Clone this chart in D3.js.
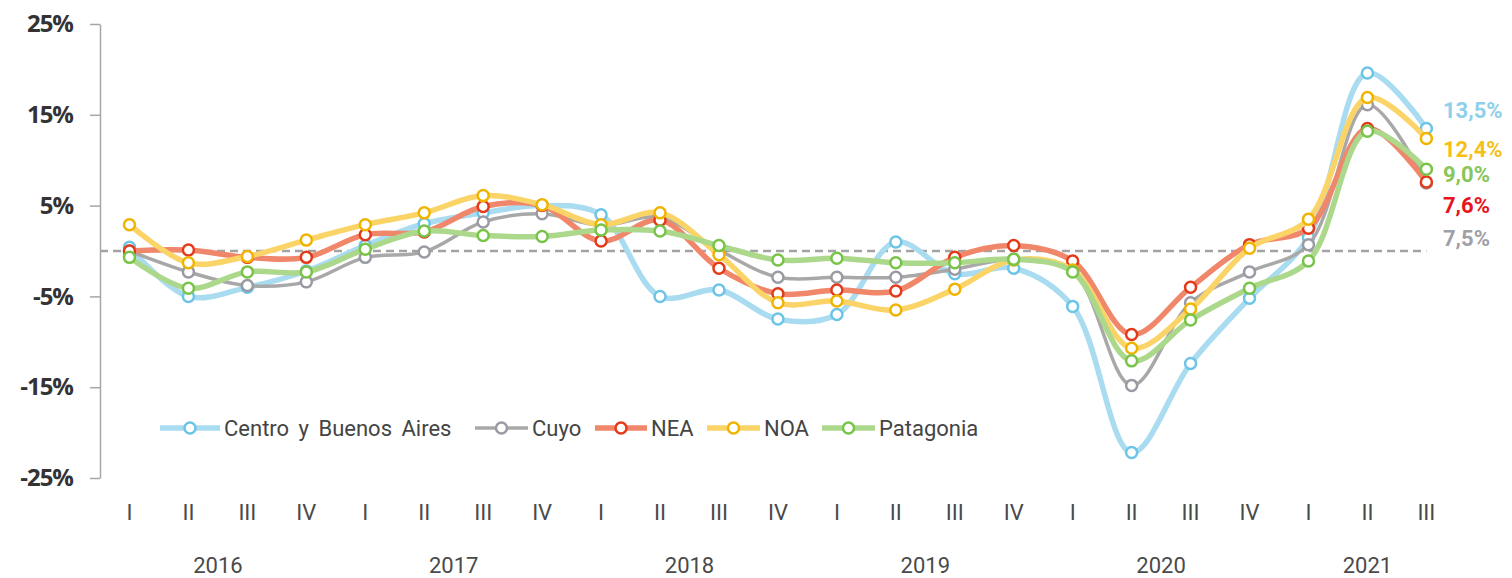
<!DOCTYPE html>
<html>
<head>
<meta charset="utf-8">
<script src="https://cdn.jsdelivr.net/npm/d3@7"></script>
<style>
  body { margin: 0; background: #fff; }
  svg { display: block; font-family: Roboto, "Noto Sans", sans-serif; }
</style>
</head>
<body>
<svg id="chart" width="1512" height="578"></svg>
<script>
// quarters and years
const quarters = ['I','II','III','IV','I','II','III','IV','I','II','III','IV','I','II','III','IV','I','II','III','IV','I','II','III']
const years = ['2016','2017','2018','2019','2020','2021']
const yTicks = [-25, -15, -5, 5, 15, 25]

// values (%) per region
const centro = [0.4, -5.0, -4.0, -2.2, 0.6, 3.0, 4.2, 5.0, 4.0, -5.0, -4.3, -7.5, -7.0, 1.0, -2.5, -1.9, -6.1, -22.2, -12.4, -5.2, 1.5, 19.6, 13.5]
const cuyo = [0.0, -2.3, -3.8, -3.4, -0.7, -0.1, 3.2, 4.1, 2.8, 3.7, 0.1, -2.9, -2.9, -2.9, -2.0, -0.9, -2.2, -14.8, -5.7, -2.3, 0.7, 16.1, 7.5]
const nea = [0.0, 0.1, -0.7, -0.7, 1.8, 2.1, 4.9, 5.0, 1.1, 3.4, -1.9, -4.7, -4.3, -4.4, -0.7, 0.6, -1.1, -9.2, -4.0, 0.7, 2.5, 13.5, 7.6]
const noa = [2.9, -1.3, -0.6, 1.2, 2.9, 4.2, 6.1, 5.1, 2.9, 4.2, -0.4, -5.7, -5.5, -6.5, -4.2, -1.0, -2.1, -10.7, -6.4, 0.3, 3.5, 16.9, 12.4]
const patagonia = [-0.7, -4.1, -2.3, -2.3, 0.2, 2.2, 1.7, 1.6, 2.3, 2.2, 0.6, -1.0, -0.8, -1.3, -1.3, -0.9, -2.3, -12.1, -7.6, -4.1, -1.1, 13.2, 9.0]

// end labels (as printed)
const endLabels = ['13,5%', '12,4%', '9,0%', '7,6%', '7,5%']

const series = [
    {name: 'Centro y Buenos Aires', values: centro, line: '#a9dcf0', dot: '#6cc4e6', width: 5.5},
    {name: 'Cuyo', values: cuyo, line: '#a8a8a8', dot: '#9a9aa4', width: 3.5},
    {name: 'NEA', values: nea, line: '#f0866a', dot: '#e33a1a', width: 5.5},
    {name: 'NOA', values: noa, line: '#fbd468', dot: '#f0b400', width: 5.5},
    {name: 'Patagonia', values: patagonia, line: '#acd88c', dot: '#78c448', width: 5.5}
]

const endLabelInfo = [
    {text: endLabels[0], color: '#8ed0ea', y: 110},
    {text: endLabels[1], color: '#f5bf1c', y: 149},
    {text: endLabels[2], color: '#86c65a', y: 174},
    {text: endLabels[3], color: '#e8141c', y: 205},
    {text: endLabels[4], color: '#a0a0a8', y: 238}
]

const svg = d3.select('#chart')

const x = d3.scaleBand()
    .domain(d3.range(quarters.length))
    .range([100, 100 + quarters.length * 58.95])

const y = d3.scaleLinear()
    .domain([-25, 25])
    .range([478, 24])

const cx = i => x(i) + x.bandwidth() / 2

// y axis
let yAxis = svg.append('g')
    .attr('transform', 'translate(100,0)')
    .call(d3.axisLeft(y).tickValues(yTicks).tickSize(10).tickSizeOuter(0).tickFormat(d => d + '%'))
yAxis.select('.domain').attr('stroke', '#a6a6a6').attr('stroke-width', 1.5)
yAxis.selectAll('.tick line').attr('stroke', '#a6a6a6').attr('stroke-width', 1.5)
yAxis.selectAll('.tick text')
    .attr('x', -27)
    .attr('font-size', 24)
    .attr('font-weight', 'bold')
    .attr('fill', '#333')
    .attr('font-family', '"Open Sans", sans-serif')
    .attr('letter-spacing', -1)

// zero dashed line
svg.append('line')
    .attr('x1', 100)
    .attr('x2', cx(quarters.length - 1))
    .attr('y1', y(0))
    .attr('y2', y(0))
    .attr('stroke', '#a3a3a3')
    .attr('stroke-width', 2.5)
    .attr('stroke-dasharray', '8,5')

// quarter labels
svg.selectAll('.q')
    .data(quarters)
    .join('text')
    .attr('class', 'q')
    .attr('x', (d, i) => cx(i))
    .attr('y', 520)
    .attr('text-anchor', 'middle')
    .attr('font-size', 22)
    .attr('fill', '#4a4a4a')
    .text(d => d)

// year labels (centred under their quarters)
svg.selectAll('.yr')
    .data(years)
    .join('text')
    .attr('class', 'yr')
    .attr('x', (d, i) => {
        let first = i * 4
        let last = Math.min(first + 3, quarters.length - 1)
        return (cx(first) + cx(last)) / 2
    })
    .attr('y', 573)
    .attr('text-anchor', 'middle')
    .attr('font-size', 22)
    .attr('fill', '#4a4a4a')
    .text(d => d)

const line = d3.line()
    .x((d, i) => cx(i))
    .y(d => y(d))
    .curve(d3.curveCatmullRom.alpha(0.5))

let groups = svg.selectAll('.series')
    .data(series)
    .join('g')
    .attr('class', 'series')

groups.append('path')
    .attr('d', d => line(d.values))
    .attr('fill', 'none')
    .attr('stroke', d => d.line)
    .attr('stroke-width', d => d.width)
    .attr('stroke-linejoin', 'round')

groups.selectAll('circle')
    .data(d => d.values.map(v => ({v: v, s: d})))
    .join('circle')
    .attr('cx', (d, i) => cx(i))
    .attr('cy', d => y(d.v))
    .attr('r', 5.5)
    .attr('fill', '#fff')
    .attr('stroke', d => d.s.dot)
    .attr('stroke-width', 2.5)

// end labels
svg.selectAll('.endlab')
    .data(endLabelInfo)
    .join('text')
    .attr('class', 'endlab')
    .attr('x', 1443)
    .attr('y', d => d.y)
    .attr('dy', '0.35em')
    .attr('font-size', 22)
    .attr('font-weight', 'bold')
    .attr('fill', d => d.color)
    .text(d => d.text)

// legend
const legendX = [160, 475, 595, 707, 822]
const legendLen = [60, 53, 52, 53, 53]
let legend = svg.selectAll('.leg')
    .data(series)
    .join('g')
    .attr('class', 'leg')
    .attr('transform', (d, i) => `translate(${legendX[i]},428)`)

legend.append('line')
    .attr('x1', 0).attr('x2', (d, i) => legendLen[i])
    .attr('stroke', d => d.line)
    .attr('stroke-width', d => d.width)

legend.append('circle')
    .attr('cx', (d, i) => legendLen[i] / 2)
    .attr('r', 5.5)
    .attr('fill', '#fff')
    .attr('stroke', d => d.dot)
    .attr('stroke-width', 2.5)

legend.append('text')
    .attr('x', (d, i) => legendLen[i] + 4)
    .attr('dy', '0.35em')
    .attr('font-size', 22)
    .attr('word-spacing', 4)
    .attr('fill', '#444')
    .text(d => d.name)
</script>
</body>
</html>
